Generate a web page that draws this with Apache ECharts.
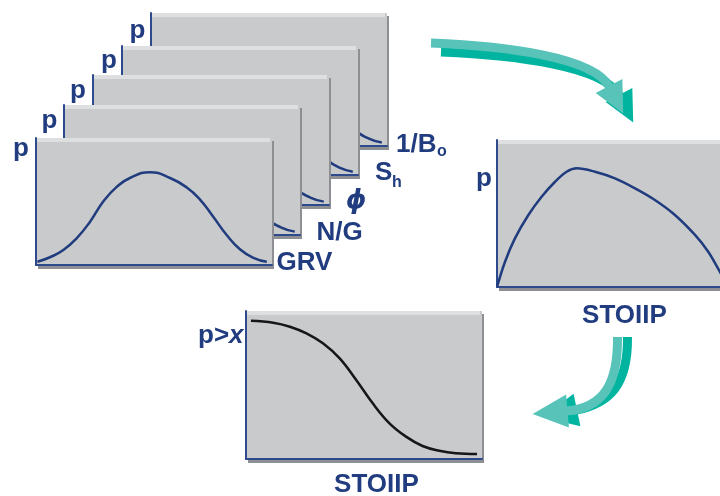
<!DOCTYPE html>
<html><head><meta charset="utf-8">
<script src="https://cdn.jsdelivr.net/npm/echarts@6/dist/echarts.min.js"></script>
<style>html,body{margin:0;padding:0;background:#fff}#c{width:720px;height:496px}</style>
</head><body><div id="c"></div>
<script>
// ---- data (x and y in percent of each small chart's axes) ----
const bellX = [0.6, 5.9, 11.6, 17.2, 22.9, 28.5, 34.2, 39.8, 48.3, 56.8, 63.9, 69.5, 75.1, 80.8, 86.4, 92.1, 97.8];
const bellY = [2.6, 6.1, 11.8, 21, 34.1, 50, 61.5, 68.5, 73, 68.5, 61, 51.5, 38, 23.6, 12.4, 5.7, 2.6];
const pdfX = [0, 3.4, 7.6, 13.3, 18.9, 24.6, 29.5, 33.8, 41.5, 50, 58.5, 66.9, 75.4, 83.9, 89.5, 94, 98];
const pdfY = [0, 17.2, 33.1, 49, 61.4, 71.6, 78.4, 80.7, 78.4, 73.9, 67.1, 59.2, 49, 35.4, 24, 11.6, 0];
const cdfX = [2.1, 11.5, 18.6, 25.6, 32.6, 39.7, 46.7, 53.7, 60.8, 67.8, 74.8, 81.9, 88.9, 97.9];
const cdfY = [93.4, 92.1, 89.4, 84.9, 78.2, 68, 53.4, 37.6, 24.1, 15.1, 8.8, 5.6, 3.9, 3.4];
const inputNames = ['1/B', 'S', 'ϕ', 'N/G', 'GRV'];   // back to front
const inputSubs  = ['o', 'h', '', '', ''];
const axisP = 'p';
const resultName = 'STOIIP';
const cdfAxisName = ['p>', 'x'];

// ---- layout ----
const PW = 236;
const stack = [
  {left:151, top:13,  bottom:146, px:129.5, pb:39,  lx:396,   lb:153.5},
  {left:122, top:46,  bottom:175, px:101,   pb:69,  lx:375,   lb:181.5},
  {left:93,  top:75,  bottom:205, px:70,    pb:99,  lx:356,   lb:210},
  {left:64,  top:105, bottom:235, px:41.5,  pb:129, lx:316.5, lb:241.5},
  {left:36,  top:138, bottom:265, px:13,    pb:157, lx:276.5, lb:271}
];
const subPos = [{x:437, b:156.5}, {x:392, b:187.5}];
const rightPanel = {left:497, top:140, bottom:287};
const lowPanel = {left:246, top:311, bottom:459};

const BLUE = '#213d7f', AXIS = '#2c4a8c', GRAY = '#c9cacc', LIGHT = '#dedfe0', SHADOW = '#8e8f93';
const FONT = '"Liberation Sans", Arial, sans-serif';

const grid = [], xAxis = [], yAxis = [], series = [], graphic = [];

function zip(xs, ys) { return xs.map((x, i) => [x, ys[i]]); }

function addPanel(p, z, xs, ys, color, smooth) {
  const H = p.bottom - p.top, idx = grid.length;
  graphic.push({type:'rect', silent:true, z:z, shape:{x:p.left+2, y:p.top+3, width:PW, height:H+1}, style:{fill:SHADOW}});
  grid.push({left:p.left, top:p.top, width:PW, height:H, show:true, backgroundColor:GRAY, borderWidth:0, z:z+1, containLabel:false, outerBoundsMode:'none'});
  graphic.push({type:'rect', silent:true, z:z+2, shape:{x:p.left, y:p.top, width:PW-2, height:4}, style:{fill:LIGHT}});
  const ax = {gridIndex:idx, type:'value', min:0, max:100, z:z+3,
    axisLine:{show:true, onZero:false, lineStyle:{color:AXIS, width:2}},
    axisTick:{show:false}, axisLabel:{show:false}, splitLine:{show:false}};
  xAxis.push(Object.assign({}, ax, {position:'bottom'}));
  yAxis.push(Object.assign({}, ax, {position:'left'}));
  series.push({type:'line', xAxisIndex:idx, yAxisIndex:idx, data:zip(xs, ys), smooth:smooth,
    symbol:'none', silent:true, z:z+4, lineStyle:{color:color, width:2.5}, animation:false});
}

function txt(str, x, base, size, opt) {
  opt = opt || {};
  const fam = opt.family || FONT;
  graphic.push({type:'text', silent:true, z:200, style:{
    text:str, x:x, y:base - 0.33*size,
    font:(opt.italic ? 'italic ' : '') + 'bold ' + size + 'px ' + fam,
    fill:BLUE, textAlign:opt.align || 'left', textVerticalAlign:'middle',
    align:opt.align || 'left', verticalAlign:'middle'}});
}

stack.forEach((p, i) => {
  addPanel(p, 10 + i*10, bellX, bellY, '#203c7e', 0.5);
  txt(axisP, p.px, p.pb, 26);
  if (inputNames[i] === 'ϕ') txt(inputNames[i], p.lx, p.lb, 26, {italic:true, align:'center', family:'"DejaVu Sans", sans-serif'});
  else txt(inputNames[i], p.lx, p.lb, 26);
  if (inputSubs[i]) txt(inputSubs[i], subPos[i].x, subPos[i].b, 16);
});

addPanel(rightPanel, 100, pdfX, pdfY, '#203c7e', 0.35);
txt(axisP, 476, 187, 26);
txt(resultName, 624.5, 324.5, 26, {align:'center'});

addPanel(lowPanel, 120, cdfX, cdfY, '#161616', 0.4);
txt(cdfAxisName[0], 198, 344, 26);
txt(cdfAxisName[1], 229, 344, 26, {italic:true});
txt(resultName, 376.5, 493, 26, {align:'center'});

// ---- curved arrows ----
function arrow(P, w, hw, hl, color, z) {
  const [p0, c1, c2, p3] = P;
  let tx = p3[0]-c2[0], ty = p3[1]-c2[1];
  const len = Math.hypot(tx, ty); tx /= len; ty /= len;
  const nx = -ty, ny = tx;
  graphic.push({type:'bezierCurve', silent:true, z:z,
    shape:{x1:p0[0], y1:p0[1], cpx1:c1[0], cpy1:c1[1], cpx2:c2[0], cpy2:c2[1], x2:p3[0]+tx, y2:p3[1]+ty},
    style:{stroke:color, lineWidth:w, fill:'none', lineCap:'butt'}});
  graphic.push({type:'polygon', silent:true, z:z,
    shape:{points:[[p3[0]+nx*hw/2, p3[1]+ny*hw/2], [p3[0]+tx*hl, p3[1]+ty*hl], [p3[0]-nx*hw/2, p3[1]-ny*hw/2]]},
    style:{fill:color}});
}
const topArrow = [[431,43],[505,46],[594,57],[609,86]];
arrow(topArrow.map(p => [p[0]+10, p[1]+9]), 9, 30, 31, '#00b4a0', 150);
arrow(topArrow, 9, 30, 31, '#57c3b9', 151);
arrow([[627.5,337],[628,385],[610,403],[577,410]], 9, 33, 35, '#00b4a0', 150);
arrow([[617.5,337],[618,385],[603,408],[567.5,411]], 9, 33, 35, '#57c3b9', 151);

const chart = echarts.init(document.getElementById('c'), null, {renderer:'canvas'});
chart.setOption({animation:false, backgroundColor:'#ffffff', grid, xAxis, yAxis, series, graphic});
</script></body></html>
